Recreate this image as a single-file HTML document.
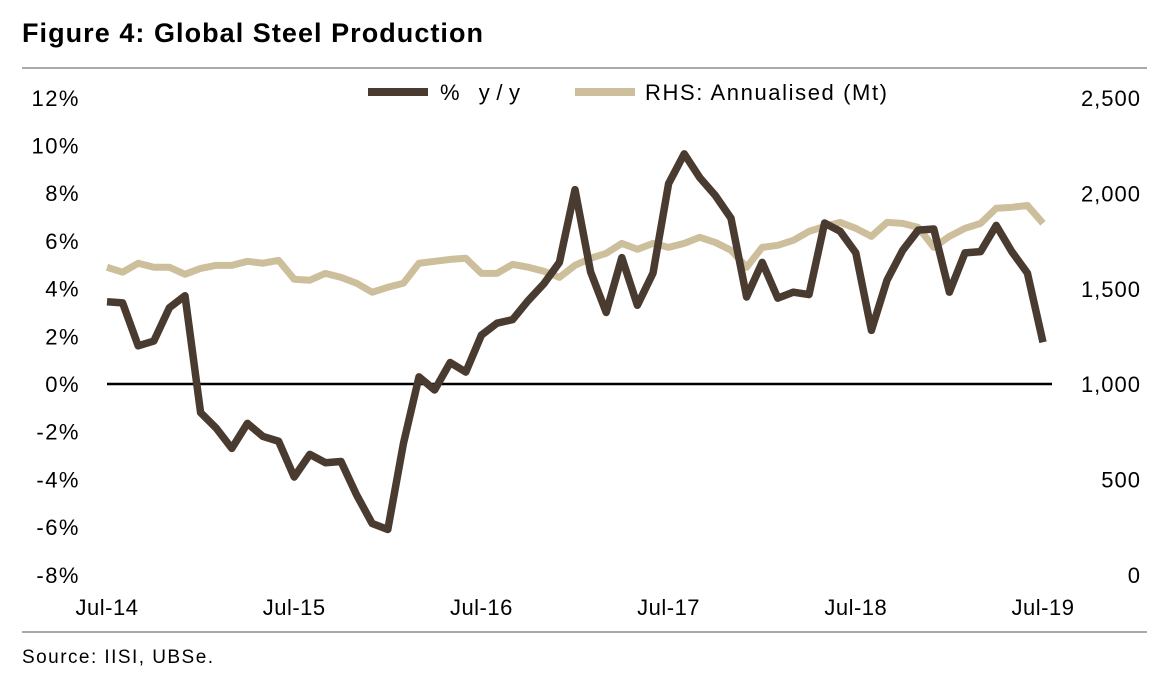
<!DOCTYPE html>
<html><head><meta charset="utf-8"><style>
body{margin:0;background:#fff;font-family:"Liberation Sans",sans-serif}
svg{display:block}
</style></head><body>
<svg width="1170" height="689" xmlns="http://www.w3.org/2000/svg">
<text x="22" y="42" font-size="27" font-weight="bold" fill="#000" textLength="461" lengthAdjust="spacing">Figure 4: Global Steel Production</text>
<line x1="22" y1="68" x2="1147" y2="68" stroke="#aaa" stroke-width="2"/>
<line x1="22" y1="632" x2="1147" y2="632" stroke="#aaa" stroke-width="2"/>
<text x="22" y="663" font-size="19" fill="#000" textLength="191" lengthAdjust="spacing">Source:  IISI, UBSe.</text>
<g id="axes"></g>
<g id="marks"></g>
<g>
<line x1="368" y1="92" x2="428" y2="92" stroke="#4a3b30" stroke-width="8"/>
<text x="440" y="100" font-size="22" fill="#000" textLength="80" lengthAdjust="spacing">% y/y</text>
<line x1="575" y1="92" x2="635" y2="92" stroke="#cdbf9c" stroke-width="8"/>
<text x="645" y="100" font-size="22" fill="#000" textLength="242" lengthAdjust="spacing">RHS: Annualised (Mt)</text>
</g>
</svg>
<script>
const yoy=[3.45,3.4,1.6,1.8,3.2,3.7,-1.2,-1.85,-2.7,-1.65,-2.2,-2.4,-3.9,-2.95,-3.3,-3.25,-4.65,-5.85,-6.1,-2.5,0.3,-0.25,0.9,0.5,2.05,2.55,2.7,3.5,4.2,5.1,
8.15,4.7,3.0,5.3,3.3,4.65,8.4,9.65,8.65,7.9,6.95,3.65,5.1,3.6,3.85,3.75,6.75,6.4,5.5,2.25,4.35,5.6,6.45,6.5,3.85,5.5,5.55,6.65,5.55,4.65,1.75];
const annual=[1613,1587,1634,1613,1613,1576,1607,1623,1623,1644,1634,1649,1550,1545,1581,1560,1529,1482,1508,1529,1634,1644,1654,1660,1581,1581,1628,1613,1592,1560,
1623,1660,1686,1738,1707,1738,1717,1738,1770,1743,1702,1613,1717,1728,1754,1801,1827,1848,1817,1775,1848,1843,1822,1717,1775,1817,1843,1922,1927,1937,1843];
const leftTicks=[12,10,8,6,4,2,0,-2,-4,-6,-8];
const rightTicks=[2500,2000,1500,1000,500,0];
const xLabels=["Jul-14","Jul-15","Jul-16","Jul-17","Jul-18","Jul-19"];
const NS="http://www.w3.org/2000/svg";
const x0=107,x1=1043;
function xs(i){return x0+(x1-x0)*i/(yoy.length-1);}
function yL(v){return 384-(v)*23.85;}
function yR(v){return 575-v*(477/2500);}
function mk(t,a,p){const e=document.createElementNS(NS,t);for(const k in a)e.setAttribute(k,a[k]);document.getElementById(p).appendChild(e);return e;}
leftTicks.forEach(v=>{const t=mk('text',{x:80,y:yL(v)+8,'font-size':22,'letter-spacing':1.5,'text-anchor':'end',fill:'#000'},'axes');t.textContent=v+'%';

});
rightTicks.forEach(v=>{const t=mk('text',{x:1141,y:yR(v)+8,'font-size':22,'letter-spacing':1,'text-anchor':'end',fill:'#000'},'axes');t.textContent=v===0?'0':v.toLocaleString('en-US');

});
xLabels.forEach((l,i)=>{const t=mk('text',{x:xs(i*12),y:615,'font-size':22,'letter-spacing':0.5,'text-anchor':'middle',fill:'#000'},'axes');t.textContent=l;

});
const z=mk('line',{x1:x0,y1:yL(0),x2:1052,y2:yL(0),stroke:'#000','stroke-width':2.5},'axes');


const pa=mk('polyline',{points:annual.map((v,i)=>xs(i)+','+yR(v)).join(' '),fill:'none',stroke:'#cdbf9c','stroke-width':7,'stroke-linejoin':'round'},'marks');


const py=mk('polyline',{points:yoy.map((v,i)=>xs(i)+','+yL(v)).join(' '),fill:'none',stroke:'#4a3b30','stroke-width':7.5,'stroke-linejoin':'round'},'marks');


</script>
</body></html>
